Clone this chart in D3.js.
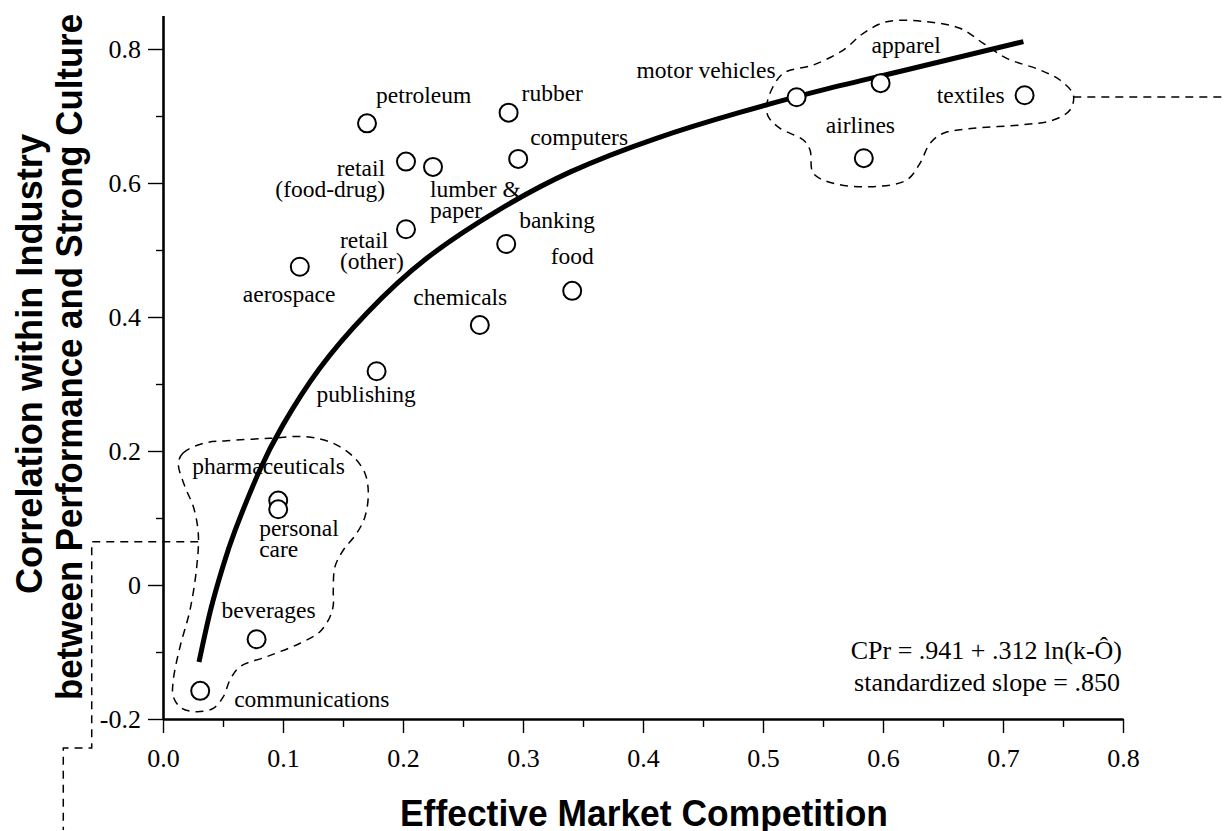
<!DOCTYPE html>
<html>
<head>
<meta charset="utf-8">
<script src="https://cdn.jsdelivr.net/npm/d3@7"></script>
<style>
  html, body { margin: 0; padding: 0; background: #fff; }
  svg { display: block; }
  .serif { font-family: "Liberation Serif", "Times New Roman", Times, serif; }
  .sans { font-family: "Liberation Sans", Arial, Helvetica, sans-serif; font-weight: bold; }
</style>
</head>
<body>
<svg id="chart" width="1227" height="831"></svg>
<script>
// Industries: effective market competition vs. performance/culture correlation
const industries = [
  "communications", "beverages", "pharmaceuticals", "personal care", "publishing",
  "aerospace", "retail (other)", "retail (food-drug)", "lumber & paper", "petroleum",
  "rubber", "computers", "banking", "food", "chemicals",
  "motor vehicles", "apparel", "textiles", "airlines"
];
const competition = [
  0.031, 0.078, 0.096, 0.096, 0.178,
  0.114, 0.2025, 0.2025, 0.225, 0.170,
  0.288, 0.296, 0.286, 0.341, 0.264,
  0.528, 0.598, 0.718, 0.584
];
const correlation = [
  -0.158, -0.081, 0.126, 0.113, 0.319,
  0.475, 0.531, 0.632, 0.624, 0.689,
  0.705, 0.636, 0.509, 0.439, 0.388,
  0.728, 0.749, 0.731, 0.637
];

// Fitted logarithmic curve, sampled along its length
const fitX = [0.030, 0.040, 0.050, 0.060, 0.080, 0.100, 0.130, 0.170, 0.220, 0.280, 0.340, 0.410, 0.480, 0.550, 0.620, 0.717];
const fitY = [-0.115, -0.035, 0.028, 0.081, 0.169, 0.239, 0.322, 0.406, 0.488, 0.560, 0.617, 0.666, 0.705, 0.739, 0.769, 0.811];

// Axis ticks
const xMajorTicks = [0.0, 0.1, 0.2, 0.3, 0.4, 0.5, 0.6, 0.7, 0.8];
const xMinorTicks = [0.05, 0.15, 0.25, 0.35, 0.45, 0.55, 0.65, 0.75];
const yMajorTicks = [-0.2, 0, 0.2, 0.4, 0.6, 0.8];
const yMinorTicks = [-0.1, 0.1, 0.3, 0.5, 0.7];

// Outline of the low-competition cluster
const lowClusterX = [0.0128, 0.0167, 0.0336, 0.0531, 0.0892, 0.1198, 0.1419, 0.1586, 0.1683, 0.1711,
  0.1683, 0.1614, 0.1503, 0.1433, 0.1419, 0.1419, 0.1392, 0.1308, 0.1142, 0.0864,
  0.0642, 0.0558, 0.0503, 0.0419, 0.0281, 0.0156, 0.0086, 0.0086, 0.0142, 0.0225,
  0.0281, 0.0294, 0.0253, 0.0183];
const lowClusterY = [0.1817, 0.1970, 0.2115, 0.2154, 0.2190, 0.2213, 0.2115, 0.1915, 0.1667, 0.1369,
  0.1019, 0.0771, 0.0522, 0.0273, -0.0075, -0.0299, -0.0473, -0.0697, -0.0870, -0.1070,
  -0.1219, -0.1418, -0.1667, -0.1840, -0.1891, -0.1840, -0.1667, -0.1418, -0.0921, -0.0373,
  0.0273, 0.0771, 0.1169, 0.1467];
// Outline of the high-competition cluster
const highClusterX = [0.5031, 0.5058, 0.5169, 0.5419, 0.5669, 0.5836, 0.6031, 0.6364, 0.6642, 0.6836,
  0.7031, 0.7308, 0.7475, 0.7586, 0.7558, 0.7419, 0.7142, 0.6753, 0.6503, 0.6392,
  0.6308, 0.6197, 0.5919, 0.5586, 0.5419, 0.5392, 0.5336, 0.5142, 0.5044];
const highClusterY = [0.7139, 0.7339, 0.7637, 0.7761, 0.7985, 0.8234, 0.8407, 0.8407, 0.8309, 0.8085,
  0.7861, 0.7687, 0.7537, 0.7313, 0.7090, 0.6940, 0.6866, 0.6816, 0.6742, 0.6592,
  0.6294, 0.6045, 0.5945, 0.5996, 0.6145, 0.6493, 0.6642, 0.6816, 0.6990];
// Leader lines running out of each cluster
const lowLeaderX = [0.0294, -0.0594, -0.0594, -0.0831, -0.0831];
const lowLeaderY = [0.0646, 0.0646, -0.2433, -0.2433, -0.3657];
const highLeaderX = [0.7586, 0.8867];
const highLeaderY = [0.7284, 0.7284];

// Label placement (pixel offsets from each point, anchor, line breaks)
const labelLayout = {
  "communications": { dx: 34, dy: 16, anchor: "start", lines: ["communications"] },
  "beverages": { dx: -35, dy: -21, anchor: "start", lines: ["beverages"] },
  "pharmaceuticals": { dx: -86, dy: -27, anchor: "start", lines: ["pharmaceuticals"] },
  "personal care": { dx: -19, dy: 27, anchor: "start", lines: ["personal", "care"] },
  "publishing": { dx: -60, dy: 31, anchor: "start", lines: ["publishing"] },
  "aerospace": { dx: -57, dy: 35, anchor: "start", lines: ["aerospace"] },
  "retail (other)": { dx: -66, dy: 19, anchor: "start", lines: ["retail", "(other)"] },
  "retail (food-drug)": { dx: -21, dy: 14, anchor: "end", lines: ["retail", "(food-drug)"] },
  "lumber & paper": { dx: -3, dy: 30, anchor: "start", lines: ["lumber &", "paper"] },
  "petroleum": { dx: 9, dy: -20, anchor: "start", lines: ["petroleum"] },
  "rubber": { dx: 13, dy: -12, anchor: "start", lines: ["rubber"] },
  "computers": { dx: 12, dy: -14, anchor: "start", lines: ["computers"] },
  "banking": { dx: 13, dy: -16, anchor: "start", lines: ["banking"] },
  "food": { dx: -21.5, dy: -27, anchor: "start", lines: ["food"] },
  "chemicals": { dx: -66.5, dy: -20, anchor: "start", lines: ["chemicals"] },
  "motor vehicles": { dx: -21, dy: -19, anchor: "end", lines: ["motor vehicles"] },
  "apparel": { dx: -9, dy: -30, anchor: "start", lines: ["apparel"] },
  "textiles": { dx: -20, dy: 8, anchor: "end", lines: ["textiles"] },
  "airlines": { dx: -38, dy: -25, anchor: "start", lines: ["airlines"] }
};

const svg = d3.select("#chart");

const x = d3.scaleLinear().domain([0, 0.8]).range([163, 1123]);
const y = d3.scaleLinear().domain([-0.2, 0.85]).range([719, 15.5]);

const fixed1 = d3.format(".1f");
const fmtX = v => fixed1(v);
const fmtY = v => (v === 0 ? "0" : fixed1(v).replace("\u2212", "-"));

// ---- axes ----
const xAxisG = svg.append("g").attr("transform", `translate(0,${y(-0.2)})`);
xAxisG.call(d3.axisBottom(x).tickValues(xMajorTicks).tickFormat(fmtX)
  .tickSize(14).tickSizeOuter(0).tickPadding(16));
const xMinorG = svg.append("g").attr("transform", `translate(0,${y(-0.2)})`);
xMinorG.call(d3.axisBottom(x).tickValues(xMinorTicks).tickFormat("")
  .tickSize(8).tickSizeOuter(0));
xMinorG.select(".domain").remove();

const yAxisG = svg.append("g").attr("transform", `translate(${x(0)},0)`);
yAxisG.call(d3.axisLeft(y).tickValues(yMajorTicks).tickFormat(fmtY)
  .tickSize(15).tickSizeOuter(0).tickPadding(7));
const yMinorG = svg.append("g").attr("transform", `translate(${x(0)},0)`);
yMinorG.call(d3.axisLeft(y).tickValues(yMinorTicks).tickFormat("")
  .tickSize(7).tickSizeOuter(0));
yMinorG.select(".domain").remove();

svg.selectAll(".domain").attr("stroke", "#000").attr("stroke-width", 2.6);
svg.selectAll(".tick line").attr("stroke", "#000").attr("stroke-width", 1.4);
svg.selectAll(".tick text")
  .attr("class", "serif")
  .attr("font-size", 26)
  .attr("fill", "#000");

// ---- cluster outlines and leaders ----
const dashed = { stroke: "#000", "stroke-width": 1.5, "stroke-dasharray": "8,6", fill: "none" };
const blob = d3.line().x(d => x(d[0])).y(d => y(d[1])).curve(d3.curveCatmullRomClosed.alpha(0.5));
const leader = d3.line().x(d => x(d[0])).y(d => y(d[1]));

function drawDashed(path) {
  Object.entries(dashed).forEach(([k, v]) => path.attr(k, v));
}
drawDashed(svg.append("path").attr("d", blob(d3.zip(lowClusterX, lowClusterY))));
drawDashed(svg.append("path").attr("d", blob(d3.zip(highClusterX, highClusterY))));
drawDashed(svg.append("path").attr("d", leader(d3.zip(lowLeaderX, lowLeaderY))));
drawDashed(svg.append("path").attr("d", leader(d3.zip(highLeaderX, highLeaderY))));

// ---- fitted curve ----
svg.append("path")
  .attr("d", d3.line().x(d => x(d[0])).y(d => y(d[1])).curve(d3.curveNatural)(d3.zip(fitX, fitY)))
  .attr("fill", "none")
  .attr("stroke", "#000")
  .attr("stroke-width", 5);

// ---- points ----
const points = industries.map((name, i) => ({ name, cx: competition[i], cy: correlation[i] }));

svg.append("g").selectAll("circle")
  .data(points)
  .join("circle")
  .attr("cx", d => x(d.cx))
  .attr("cy", d => y(d.cy))
  .attr("r", 9)
  .attr("fill", "#fff")
  .attr("stroke", "#000")
  .attr("stroke-width", 2);

// ---- point labels ----
const labels = svg.append("g").attr("class", "serif").attr("font-size", 23.5).attr("fill", "#000");
points.forEach(p => {
  const L = labelLayout[p.name];
  const t = labels.append("text")
    .attr("x", x(p.cx) + L.dx)
    .attr("y", y(p.cy) + L.dy)
    .attr("text-anchor", L.anchor);
  L.lines.forEach((line, j) => {
    t.append("tspan")
      .attr("x", x(p.cx) + L.dx)
      .attr("dy", j === 0 ? 0 : 21)
      .text(line);
  });
});

// ---- fit equation ----
const eq = svg.append("g").attr("class", "serif").attr("font-size", 26).attr("text-anchor", "end");
eq.append("text").attr("x", 1122).attr("y", 659).text("CPr = .941 + .312 ln(k-\u00D4)");
eq.append("text").attr("x", 1120).attr("y", 691).text("standardized slope = .850");

// ---- axis titles ----
svg.append("text")
  .attr("class", "sans")
  .attr("x", 644).attr("y", 826)
  .attr("text-anchor", "middle")
  .attr("font-size", 36)
  .attr("textLength", 488)
  .attr("lengthAdjust", "spacingAndGlyphs")
  .text("Effective Market Competition");

const yTitle = svg.append("g").attr("class", "sans").attr("font-size", 36).attr("text-anchor", "middle");
yTitle.append("text")
  .attr("transform", "translate(42,364) rotate(-90)")
  .attr("textLength", 460)
  .attr("lengthAdjust", "spacingAndGlyphs")
  .text("Correlation within Industry");
yTitle.append("text")
  .attr("transform", "translate(82,357) rotate(-90)")
  .attr("textLength", 686)
  .attr("lengthAdjust", "spacingAndGlyphs")
  .text("between Performance and Strong Culture");
</script>
</body>
</html>
